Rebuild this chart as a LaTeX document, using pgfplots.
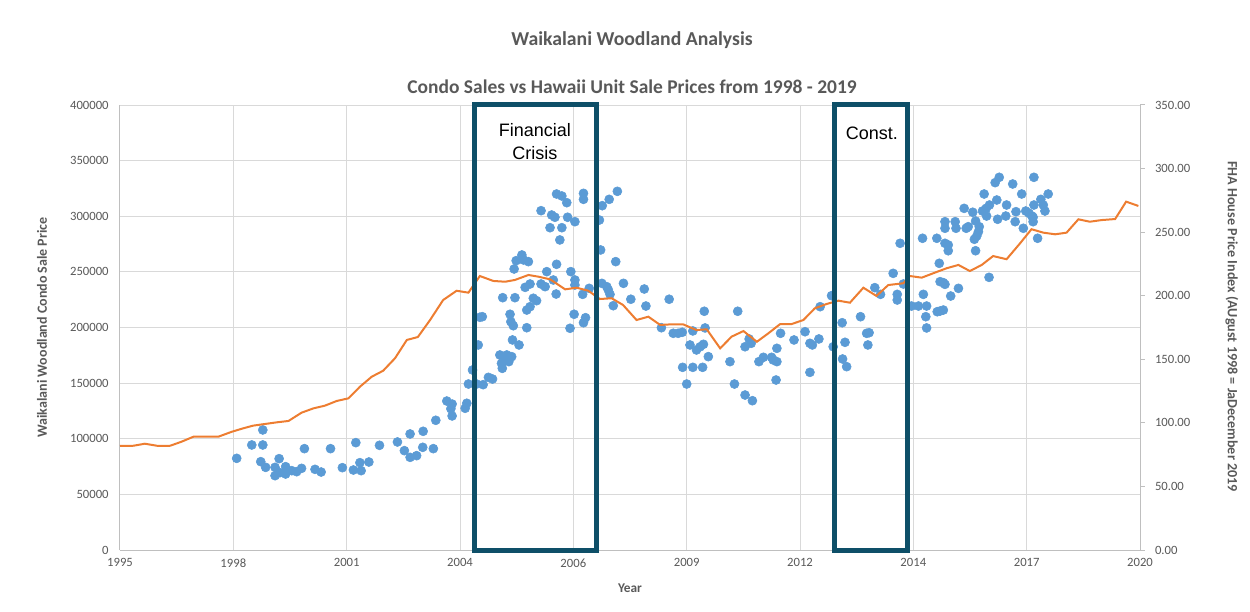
\documentclass[border=0pt]{standalone}
\usepackage{fontspec}
\setmainfont{Carlito}
\newfontfamily\arialfont{Liberation Sans}
\usepackage{pgfplots}
\usepackage{pgfplotstable}
\pgfplotsset{compat=1.18}
\definecolor{txtgray}{HTML}{595959}
\definecolor{gridgray}{HTML}{D9D9D9}
\definecolor{axgray}{HTML}{BFBFBF}
\definecolor{dotblue}{HTML}{5B9BD5}
\definecolor{lineorange}{HTML}{ED7D31}
\definecolor{boxteal}{HTML}{0E4F68}

\pgfplotstableread{
x y
1997.86 82400
1998.23 94400
1998.50 107900
1998.50 94400
1998.45 79400
1998.57 74300
1998.80 74300
1998.80 66800
1998.90 82100
1998.92 69500
1999.06 74900
1999.06 68300
1999.21 71300
1999.33 70400
1999.45 73400
1999.52 91100
1999.78 72500
1999.93 70100
2000.16 91100
2000.45 74000
2000.72 71900
2000.78 96500
2000.88 78500
2000.91 71300
2001.10 79100
2001.36 94100
2001.80 97100
2001.97 89300
2002.11 104300
2002.11 83300
2002.27 84800
2002.43 106700
2002.42 92300
2002.68 91100
2002.74 116600
2003.01 133900
2003.14 131200
2003.11 127000
2003.14 120500
2003.46 127400
2003.50 131900
2003.54 149200
2003.74 149200
2003.90 148600
2003.64 161800
2003.78 184300
2003.82 209200
2003.88 209700
2004.03 155200
2004.13 153700
2004.31 175300
2004.38 226800
2004.35 167800
2004.37 163300
2004.44 170800
2004.48 175300
2004.53 169300
2004.60 173800
2004.56 211900
2004.58 205200
2004.64 201600
2004.62 188800
2004.78 184300
2004.66 252600
2004.71 260100
2004.85 265200
2004.89 260700
2005.01 259200
2004.68 226800
2004.93 236100
2005.05 239100
2004.97 215700
2005.05 218700
2005.13 226300
2005.21 224100
2004.97 199800
2005.32 305000
2005.32 239100
2005.42 236700
2005.46 250200
2005.54 289700
2005.58 301100
2005.66 299100
2005.62 242700
2005.69 230100
2005.70 256800
2005.70 320000
2005.83 318200
2005.95 312200
2005.78 278700
2005.83 289700
2005.97 299100
2006.03 199300
2006.05 250200
2006.15 295100
2006.15 242700
2006.15 238200
2006.13 211900
2006.36 320600
2006.36 315200
2006.34 229800
2006.36 204300
2006.41 208800
2006.50 235200
2006.75 296600
2006.82 309500
2006.99 315200
2007.19 322400
2006.78 269700
2006.81 239700
2006.93 236700
2006.97 233700
2007.01 229800
2007.09 219600
2007.15 259200
2007.34 239700
2007.52 225400
2007.85 234600
2007.89 219300
2008.27 199800
2008.46 225400
2008.56 194800
2008.68 194800
2008.78 195700
2008.97 184300
2009.04 196900
2009.13 179800
2008.79 164200
2009.04 164200
2008.89 149200
2009.32 214600
2009.34 199600
2009.22 182700
2009.30 184900
2009.42 173800
2009.28 164200
2009.95 169300
2010.06 149200
2010.14 214600
2010.32 139300
2010.50 134200
2010.42 189700
2010.47 185800
2010.32 182700
2010.66 169300
2010.77 173200
2010.97 173200
2011.01 170800
2011.10 169300
2011.08 152800
2011.10 181300
2011.19 194800
2011.52 188800
2011.79 196200
2011.91 185800
2011.97 184300
2011.91 159700
2012.13 189700
2012.16 218700
2012.44 228600
2012.48 182700
2012.70 204300
2012.77 186700
2012.71 171700
2012.81 164800
2013.15 209700
2013.30 194800
2013.36 195300
2013.33 184300
2013.50 235800
2013.64 229800
2013.95 248700
2014.12 275700
2014.05 229800
2014.20 239100
2014.05 224700
2014.40 219300
2014.57 219300
2014.67 280200
2014.69 229800
2014.77 219300
2014.75 209700
2014.77 199600
2015.02 280200
2015.08 257700
2015.10 241200
2015.18 240300
2015.22 238800
2015.03 214200
2015.10 214800
2015.18 215700
2015.22 295100
2015.22 289200
2015.22 275700
2015.30 274200
2015.30 269000
2015.36 228300
2015.47 295100
2015.49 289200
2015.55 235200
2015.69 307100
2015.74 289200
2015.79 290600
2015.90 303600
2015.97 295700
2016.06 290600
2016.04 286100
2016.00 282300
2015.94 279300
2015.97 269000
2016.18 320000
2016.14 304700
2016.23 307100
2016.31 310100
2016.24 300200
2016.30 245100
2016.45 330200
2016.55 335000
2016.49 314600
2016.51 297300
2016.73 310100
2016.71 300200
2016.88 329000
2016.94 295100
2016.96 304100
2017.10 320000
2017.14 289200
2017.20 304700
2017.28 302700
2017.35 300200
2017.38 295100
2017.38 299100
2017.40 335000
2017.40 310100
2017.49 280200
2017.57 315200
2017.63 310100
2017.67 304700
2017.75 320000
}\sales

\pgfplotstableread{
x y
1995.00 81.8
1995.33 82.0
1995.61 83.6
1995.94 81.8
1996.23 82.0
1996.51 85.2
1996.80 89.1
1997.13 89.1
1997.41 89.1
1997.74 93.0
1998.02 95.7
1998.26 97.8
1998.55 99.1
1998.84 100.4
1999.13 101.5
1999.45 108.0
1999.74 111.4
2000.02 113.5
2000.31 117.2
2000.60 119.3
2000.88 128.4
2001.17 136.3
2001.45 141.0
2001.74 150.8
2002.03 165.2
2002.30 167.5
2002.60 180.9
2002.92 196.6
2003.25 203.9
2003.54 202.4
2003.82 215.5
2004.15 211.6
2004.44 211.0
2004.68 212.4
2005.01 216.3
2005.25 215.0
2005.54 212.9
2005.91 205.0
2006.19 206.3
2006.48 203.9
2006.76 197.4
2007.05 198.0
2007.33 192.7
2007.66 180.9
2007.95 183.5
2008.24 177.0
2008.52 177.5
2008.80 177.5
2009.13 173.0
2009.38 173.6
2009.71 158.6
2009.99 167.8
2010.28 172.2
2010.61 163.8
2010.89 170.4
2011.18 177.7
2011.46 177.7
2011.75 180.9
2012.03 190.1
2012.32 193.5
2012.61 196.1
2012.89 194.5
2013.22 206.3
2013.54 199.8
2013.83 208.4
2014.20 209.8
2014.36 215.5
2014.65 214.2
2015.01 218.6
2015.26 221.6
2015.55 224.2
2015.83 219.4
2016.12 224.2
2016.40 231.2
2016.73 228.7
2017.06 241.2
2017.34 252.3
2017.63 249.6
2017.92 248.3
2018.20 249.6
2018.49 260.1
2018.77 258.2
2019.06 259.5
2019.39 260.3
2019.66 274.0
2019.96 270.6
}\fha

\begin{document}
\begin{tikzpicture}
\path[use as bounding box] (-90pt,-45.75pt) rectangle (847.5pt,412.5pt);
\begin{axis}[
  at={(0,0)}, anchor=south west,
  width=765pt, height=333.75pt, scale only axis,
  xmin=1995, xmax=2020, ymin=0, ymax=400000,
  xtick={1995,1997.7778,2000.5556,2003.3333,2006.1111,2008.8889,2011.6667,2014.4444,2017.2222,2020},
  xticklabels={1995,1998,2001,2004,2006,2009,2012,2014,2017,2020},
  ytick={0,50000,100000,150000,200000,250000,300000,350000,400000},
  yticklabels={0,50000,100000,150000,200000,250000,300000,350000,400000},
  scaled y ticks=false, scaled x ticks=false,
  tick label style={font=\fontsize{9.5}{11}\selectfont, text=txtgray},
  yticklabel style={xshift=-5pt},
  xticklabel style={yshift=-3pt},
  major tick length=0pt,
  grid=major, major grid style={gridgray, line width=0.75pt},
  axis x line*=bottom, axis y line*=left,
  axis line style={axgray, line width=0.75pt, -},
  clip=false,
]
\addplot[only marks, mark=*, mark size=3.4pt, color=dotblue, mark options={draw=dotblue, fill=dotblue}] table[x=x,y=y] {\sales};
\node[font=\fontsize{14.8}{17}\selectfont\bfseries, text=txtgray] at (rel axis cs:0.502,1.146) {Waikalani Woodland Analysis};
\node[font=\fontsize{14.6}{17}\selectfont\bfseries, text=txtgray] at (rel axis cs:0.502,1.040) {Condo Sales vs Hawaii Unit Sale Prices from 1998 - 2019};
\node[font=\fontsize{10.5}{12}\selectfont\bfseries, text=txtgray, rotate=90] at (rel axis cs:-0.0765,0.5) {Waikalani Woodland Condo Sale Price};
\node[font=\fontsize{10}{12}\selectfont\bfseries, text=txtgray] at (rel axis cs:0.5,-0.0854) {Year};
\end{axis}
\begin{axis}[
  at={(0,0)}, anchor=south west,
  width=765pt, height=333.75pt, scale only axis,
  xmin=1995, xmax=2020, ymin=0, ymax=350,
  axis x line=none, axis y line*=right,
  ytick={0,50,100,150,200,250,300,350},
  yticklabels={0.00,50.00,100.00,150.00,200.00,250.00,300.00,350.00},
  scaled y ticks=false,
  tick label style={font=\fontsize{9.5}{11}\selectfont, text=txtgray},
  yticklabel style={xshift=4pt},
  tick align=outside, major tick length=3.75pt,
  tick style={axgray, line width=0.75pt},
  axis line style={axgray, line width=0.75pt, -},
  clip=false,
]
\addplot[color=lineorange, line width=1.5pt, no marks] table[x=x,y=y] {\fha};
\draw[boxteal, line width=3.75pt] (axis cs:2003.68,0) rectangle (axis cs:2006.67,350);
\draw[boxteal, line width=3.75pt] (axis cs:2012.52,0) rectangle (axis cs:2014.29,350);
\node[font=\arialfont\fontsize{13.5}{17}\selectfont, text=black, align=center] at (axis cs:2005.17,321) {Financial\\Crisis};
\node[font=\arialfont\fontsize{13.5}{17}\selectfont, text=black] at (axis cs:2013.43,328) {Const.};
\node[font=\fontsize{10.6}{12}\selectfont\bfseries, text=txtgray, rotate=-90] at (rel axis cs:1.09,0.502) {FHA House Price Index (AUgust 1998 = JaDecember 2019};
\end{axis}
\end{tikzpicture}
\end{document}
